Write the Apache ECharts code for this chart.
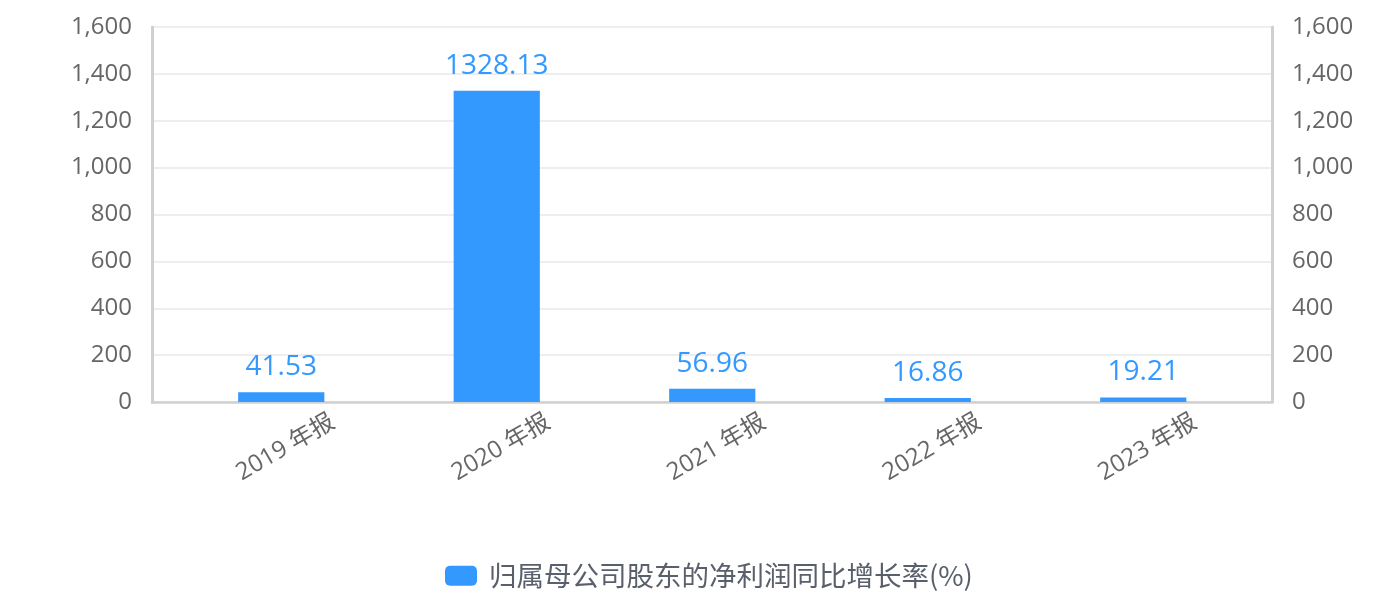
<!DOCTYPE html>
<html><head><meta charset="utf-8">
<script src="https://cdn.jsdelivr.net/npm/echarts@6/dist/echarts.min.js"></script>
<style>html,body{margin:0;padding:0;background:#fff}#c{width:1391px;height:611px}</style>
</head><body><div id="c"></div>
<script>
var categories = ['2019 年报','2020 年报','2021 年报','2022 年报','2023 年报'];
var values = [41.53, 1328.13, 56.96, 16.86, 19.21];
var seriesName = '归属母公司股东的净利润同比增长率(%)';
var yMin = 0, yMax = 1600, yStep = 200;
var font = '"Open Sans","Noto Sans CJK SC",sans-serif';
var chart = echarts.init(document.getElementById('c'));
function yAxisBase(pos){
  return {
    type:'value', gridIndex:0, position:pos, min:yMin, max:yMax, interval:yStep,
    axisLine:{show:true, lineStyle:{color:'#d0d0d0', width:3}},
    axisTick:{show:false},
    axisLabel:{color:'#666', fontSize:24, fontFamily:font, margin:20,
      formatter:function(v){return v.toLocaleString('en-US');}},
    splitLine:{show: pos==='left', lineStyle:{color:'#e8e8e8', width:1.5}}
  };
}
chart.setOption({
  animation:false,
  grid:[
    {left:152, right:119, top:27, bottom:209},
    {left:173.5, right:140, top:27, bottom:209}
  ],
  legend:{left:445, top:562, padding:0, itemWidth:32, itemHeight:20,
    icon:'roundRect',
    textStyle:{fontSize:27.5, color:'#59606b', fontFamily:'"Noto Sans CJK SC",sans-serif', padding:[0,0,0,7]},
    data:[seriesName]},
  xAxis:[
    {type:'category', gridIndex:0, data:categories,
      axisLine:{lineStyle:{color:'#d0d0d0', width:2.5}},
      axisTick:{show:false}, axisLabel:{show:false}},
    {type:'category', gridIndex:1, data:categories,
      axisLine:{show:false}, axisTick:{show:false},
      axisLabel:{rotate:30, align:'center', verticalAlign:'middle', color:'#666',
        fontSize:24, fontFamily:font, margin:48, padding:[0,0,0,10]}}
  ],
  yAxis:[yAxisBase('left'), yAxisBase('right'),
    {type:'value', gridIndex:1, min:yMin, max:yMax, interval:yStep, show:false}],
  series:[{name:seriesName, type:'bar', xAxisIndex:1, yAxisIndex:2, data:values, barWidth:'40%',
    itemStyle:{color:'#3399ff'},
    label:{show:true, position:'top', color:'#3399ff', fontSize:28, fontFamily:font, distance:11}}]
});
</script></body></html>
